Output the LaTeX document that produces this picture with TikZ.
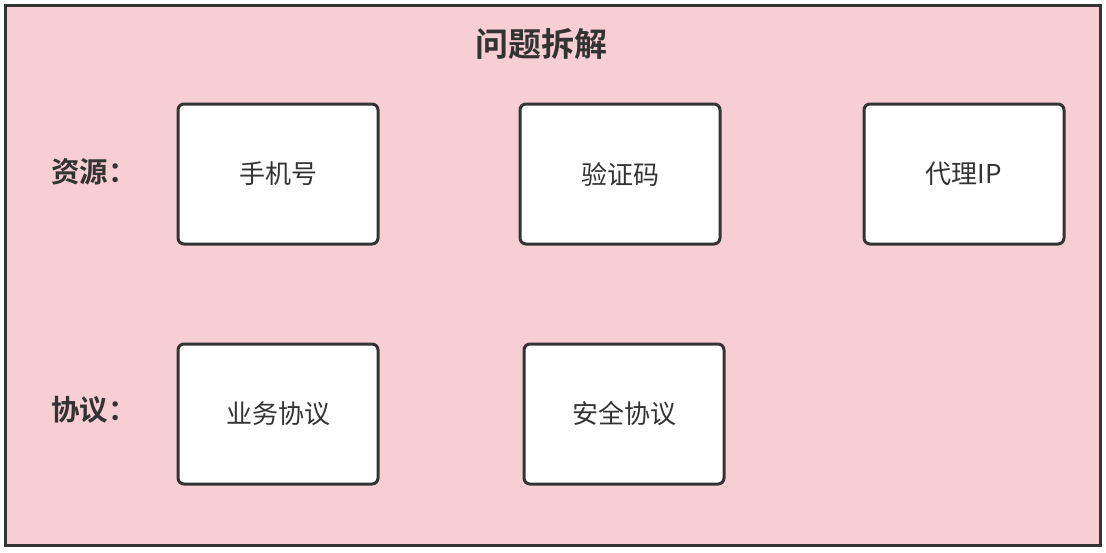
\documentclass[tikz,border=0pt]{standalone}
\usepackage{fontspec}
\newfontfamily\cjk{Noto Sans CJK SC}
\newfontfamily\cjkb{Noto Sans CJK SC Bold}
\definecolor{pinkbg}{HTML}{F6CED3}
\definecolor{edge}{HTML}{333333}
\tikzset{
  itembox/.style={draw=edge, fill=white, line width=3pt, rounded corners=6pt,
    minimum width=200pt, minimum height=140pt, inner sep=0pt, font=\cjk\fontsize{26}{31}\selectfont, text=edge},
  rowlabel/.style={font=\cjkb\fontsize{28.5}{34}\selectfont, text=edge, anchor=west, inner sep=0pt},
}
\begin{document}
\begin{tikzpicture}[x=1pt,y=-1pt]
\useasboundingbox (0,0) rectangle (1106,552);
\node[draw=edge, fill=pinkbg, line width=3pt, minimum width=1095pt, minimum height=540pt, inner sep=0pt] (frame) at (552.5,275.5) {};
\node[font=\cjkb\fontsize{33}{38}\selectfont, text=edge] (title) at (541,44) {问题拆解};
\node[rowlabel] (res) at (51,172) {资源：};
\node[rowlabel] (pro) at (51,410) {协议：};
\node[itembox] (phone) at (278,174) {手机号};
\node[itembox] (code) at (620,174) {验证码};
\node[itembox] (proxy) at (964,174) {代理IP};
\node[itembox] (biz) at (278,414) {业务协议};
\node[itembox] (sec) at (624,414) {安全协议};
\end{tikzpicture}
\end{document}
